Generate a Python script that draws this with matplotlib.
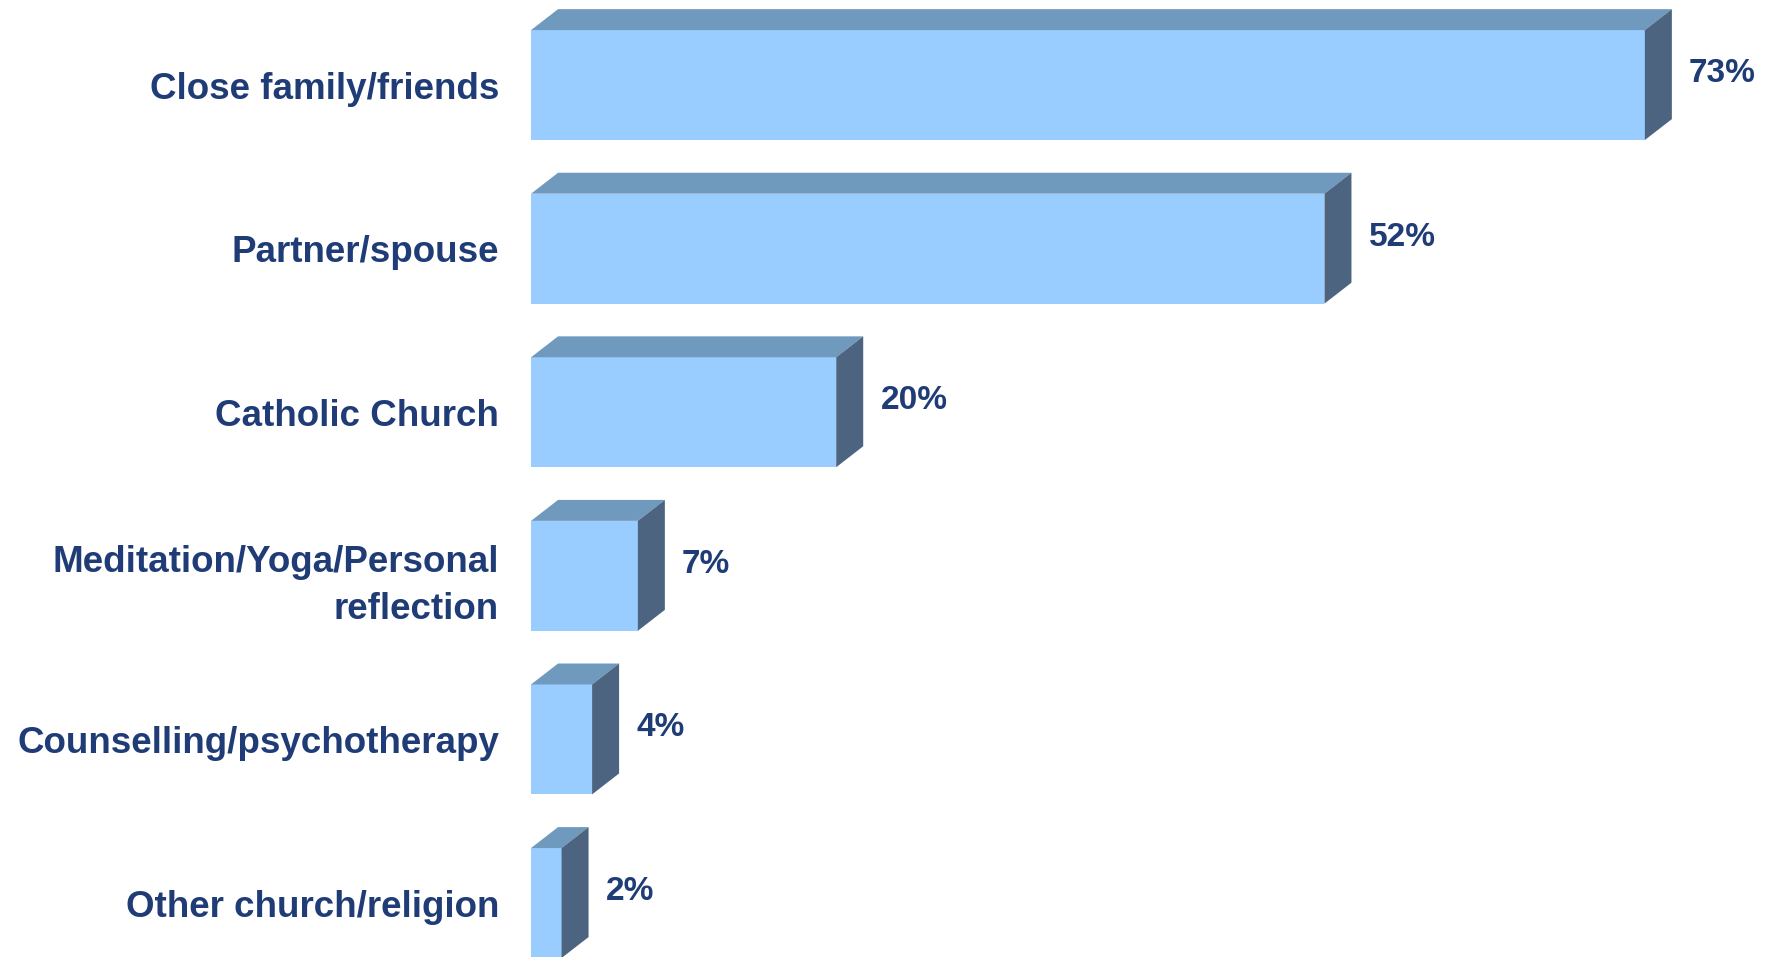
import matplotlib
matplotlib.use('Agg')
import matplotlib.pyplot as plt
from matplotlib.patches import Polygon

plt.rcParams['font.family'] = ['Liberation Sans', 'DejaVu Sans']

categories = ['Close family/friends', 'Partner/spouse', 'Catholic Church',
              'Meditation/Yoga/Personal\nreflection', 'Counselling/psychotherapy',
              'Other church/religion']
values = [73, 52, 20, 7, 4, 2]

front_color = '#99CCFF'
top_color = '#7099BE'
side_color = '#4D6480'
text_color = '#1F3C77'

# depth of the fake 3D box, in data units
dx = 1.77
dy = 0.128
bar_h = 0.672


def main():
    fig = plt.figure(figsize=(17.69, 9.57), dpi=100)
    ax = fig.add_axes([0.3002, 0.0, 0.69, 1.0])
    ax.set_xlim(0, 80)
    ax.set_ylim(5.33, -0.52)

    ypos = list(range(len(values)))
    ax.barh(ypos, values, height=bar_h, color=front_color, zorder=2)
    for y, v in zip(ypos, values):
        top = y - bar_h / 2
        bot = y + bar_h / 2
        # top face
        ax.add_patch(Polygon([(0, top), (dx, top - dy), (v + dx, top - dy), (v, top)],
                             closed=True, facecolor=top_color, edgecolor='none', zorder=2))
        # right side face
        ax.add_patch(Polygon([(v, top), (v + dx, top - dy), (v + dx, bot - dy), (v, bot)],
                             closed=True, facecolor=side_color, edgecolor='none', zorder=2))
        ax.text(v + 2.9, y - 0.07, f'{v}%', ha='left', va='center',
                fontsize=24, fontweight='bold', color=text_color)

    ax.set_yticks(ypos)
    ax.set_yticklabels(categories, fontsize=26.5, fontweight='bold', color=text_color,
                       linespacing=1.45)
    ax.tick_params(axis='y', length=0, pad=23)
    ax.set_xticks([])
    for s in ax.spines.values():
        s.set_visible(False)

    fig.savefig('out.png', dpi=100)


if __name__ == '__main__':
    main()
